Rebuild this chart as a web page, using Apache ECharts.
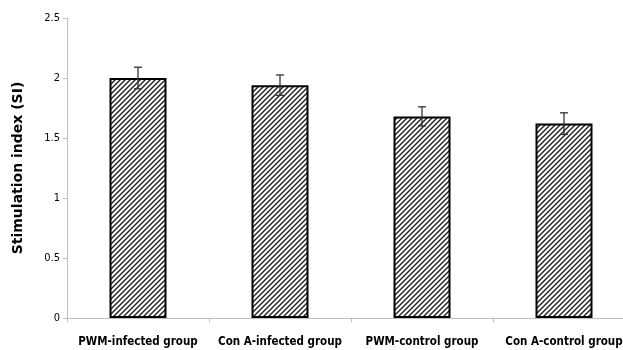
<!DOCTYPE html>
<html>
<head>
<meta charset="utf-8">
<script src="https://cdn.jsdelivr.net/npm/echarts@6/dist/echarts.min.js"></script>
<style>
  html, body { margin: 0; padding: 0; background: #fff; }
  #chart { width: 623px; height: 350px; }
</style>
</head>
<body>
<div id="chart"></div>
<script>
// values
const categories = ['PWM-infected group', 'Con A-infected group', 'PWM-control group', 'Con A-control group'];
const meanSI = [2.00, 1.94, 1.68, 1.62];
const errSI = [0.09, 0.085, 0.08, 0.09];

// diagonal hatch tile ("/" lines)
function hatchTile() {
  const c = document.createElement('canvas');
  c.width = 5;
  c.height = 5;
  const ctx = c.getContext('2d');
  ctx.fillStyle = '#fff';
  ctx.fillRect(0, 0, 5, 5);
  ctx.strokeStyle = '#222';
  ctx.lineWidth = 1.4;
  for (const off of [-5, 0, 5]) {
    ctx.beginPath();
    ctx.moveTo(off - 1, 6);
    ctx.lineTo(off + 6, -1);
    ctx.stroke();
  }
  return c;
}

const chart = echarts.init(document.getElementById('chart'));

const axisGray = '#bfbfbf';
const labelFont = "'Liberation Sans Narrow', 'DejaVu Sans Condensed', sans-serif";

const option = {
  animation: false,
  // the last category runs past the right edge in the original
  grid: { left: 67, top: 18, bottom: 32, width: 568, outerBoundsMode: 'none' },
  xAxis: {
    type: 'category',
    data: categories,
    axisLine: { lineStyle: { color: axisGray, width: 1 } },
    axisTick: { show: true, length: 4, lineStyle: { color: axisGray } },
    axisLabel: {
      color: '#000',
      fontFamily: labelFont,
      fontWeight: 'bold',
      fontSize: 11.5,
      margin: 18,
      interval: 0
    },
    splitLine: { show: false }
  },
  yAxis: {
    type: 'value',
    min: 0,
    max: 2.5,
    interval: 0.5,
    name: 'Stimulation index (SI)',
    nameLocation: 'middle',
    nameGap: 42,
    nameTextStyle: {
      color: '#000',
      fontFamily: "'DejaVu Sans', sans-serif",
      fontWeight: 'bold',
      fontSize: 14
    },
    axisLine: { show: true, lineStyle: { color: axisGray, width: 1 } },
    axisTick: { show: true, length: 4, lineStyle: { color: axisGray } },
    axisLabel: {
      color: '#000',
      fontFamily: labelFont,
      fontSize: 11,
      margin: 7
    },
    splitLine: { show: false }
  },
  series: [
    {
      type: 'bar',
      data: meanSI,
      barWidth: 57,
      itemStyle: {
        color: { image: hatchTile(), repeat: 'repeat' },
        borderColor: '#000',
        borderWidth: 2
      }
    },
    {
      type: 'custom',
      data: meanSI.map((v, i) => [i, v - errSI[i], v + errSI[i]]),
      z: 5,
      renderItem: function (params, api) {
        const lo = api.coord([api.value(0), api.value(1)]);
        const hi = api.coord([api.value(0), api.value(2)]);
        const w = 4;
        const style = { stroke: '#333', lineWidth: 1.3 };
        return {
          type: 'group',
          children: [
            { type: 'line', shape: { x1: hi[0], y1: hi[1], x2: lo[0], y2: lo[1] }, style: style },
            { type: 'line', shape: { x1: hi[0] - w, y1: hi[1], x2: hi[0] + w, y2: hi[1] }, style: style },
            { type: 'line', shape: { x1: lo[0] - w, y1: lo[1], x2: lo[0] + w, y2: lo[1] }, style: style }
          ]
        };
      }
    }
  ]
};

chart.setOption(option);
</script>
</body>
</html>
